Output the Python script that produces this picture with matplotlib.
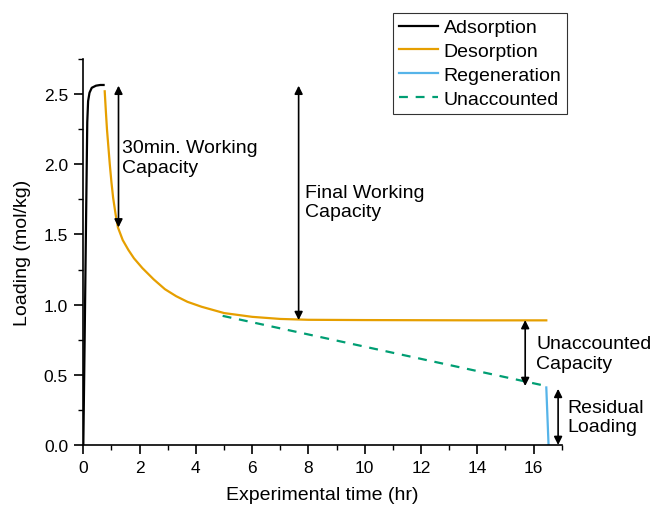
import matplotlib.pyplot as plt
from matplotlib.ticker import MultipleLocator

plt.rcParams['font.family'] = ['Liberation Sans', 'DejaVu Sans']

# measured loading curves (hr, mol/kg)
ads_t = [0.0, 0.05, 0.10, 0.14, 0.17, 0.22, 0.30, 0.45, 0.60, 0.72]
ads_q = [0.0, 0.80, 1.65, 2.30, 2.45, 2.51, 2.545, 2.56, 2.565, 2.565]

des_t = [0.76, 0.80, 0.84, 0.90, 0.94, 1.00, 1.06, 1.15, 1.23, 1.40, 1.60, 1.80,
         2.10, 2.50, 2.90, 3.30, 3.70, 4.20, 5.00, 6.00, 7.00, 8.00, 10.0, 12.0,
         14.0, 16.45]
des_q = [2.52, 2.38, 2.25, 2.10, 2.00, 1.87, 1.76, 1.64, 1.55, 1.46, 1.39, 1.33,
         1.26, 1.18, 1.11, 1.06, 1.02, 0.985, 0.94, 0.913, 0.898, 0.892, 0.89, 0.889,
         0.888, 0.888]

reg_t = [16.45, 16.53]
reg_q = [0.41, 0.0]

unacc_t = [4.95, 16.45]
unacc_q = [0.92, 0.42]

fig = plt.figure(figsize=(6.53, 5.06), dpi=100)
ax = fig.add_axes([0.1276, 0.1186, 0.7327, 0.7628])

ax.plot(ads_t, ads_q, color='black', lw=1.6, label='Adsorption')
ax.plot(des_t, des_q, color='#E69F00', lw=1.6, label='Desorption')
ax.plot(reg_t, reg_q, color='#56B4E9', lw=1.6, label='Regeneration')
ax.plot(unacc_t, unacc_q, color='#009E73', lw=1.6, ls=(0, (4, 3.5)), label='Unaccounted')

# double-headed arrows marking capacities
arrows = [(1.25, 2.56, 1.55), (7.65, 2.56, 0.89), (15.7, 0.89, 0.42), (16.87, 0.40, 0.0)]
for x, y0, y1 in arrows:
    ax.annotate('', xy=(x, y1), xytext=(x, y0),
                arrowprops=dict(arrowstyle='<|-|>', color='black', lw=1.2,
                                mutation_scale=12, shrinkA=0, shrinkB=0))

fs = 14
ax.text(1.38, 2.05, '30min. Working\nCapacity', fontsize=fs, va='center', ha='left')
ax.text(7.88, 1.73, 'Final Working\nCapacity', fontsize=fs, va='center', ha='left')
ax.text(16.1, 0.65, 'Unaccounted\nCapacity', fontsize=fs, va='center', ha='left')
ax.text(17.2, 0.20, 'Residual\nLoading', fontsize=fs, va='center', ha='left')

ax.set_xlim(0, 17)
ax.set_ylim(0, 2.75)
ax.xaxis.set_major_locator(MultipleLocator(2))
ax.xaxis.set_minor_locator(MultipleLocator(1))
ax.yaxis.set_major_locator(MultipleLocator(0.5))
ax.yaxis.set_minor_locator(MultipleLocator(0.25))
ax.yaxis.set_major_formatter(lambda v, p: f'{v:.1f}')

ax.spines['top'].set_visible(False)
ax.spines['right'].set_visible(False)
for s in ('left', 'bottom'):
    ax.spines[s].set_linewidth(1.2)
ax.tick_params(which='major', direction='out', length=6.5, width=1.2, labelsize=12.5, pad=4.5)
ax.tick_params(which='minor', direction='out', length=3.5, width=1.0)

ax.set_xlabel('Experimental time (hr)', fontsize=14, labelpad=8)
ax.set_ylabel('Loading (mol/kg)', fontsize=14, labelpad=9)

leg = fig.legend(loc='upper left', bbox_to_anchor=(393 / 653, 1 - 14 / 506),
                 fontsize=14, frameon=True, fancybox=False, edgecolor='black',
                 handlelength=2.0, handletextpad=0.3, borderpad=0.3,
                 labelspacing=0.32, borderaxespad=0)
leg.get_frame().set_linewidth(0.8)

fig.savefig('out.png', dpi=100)
